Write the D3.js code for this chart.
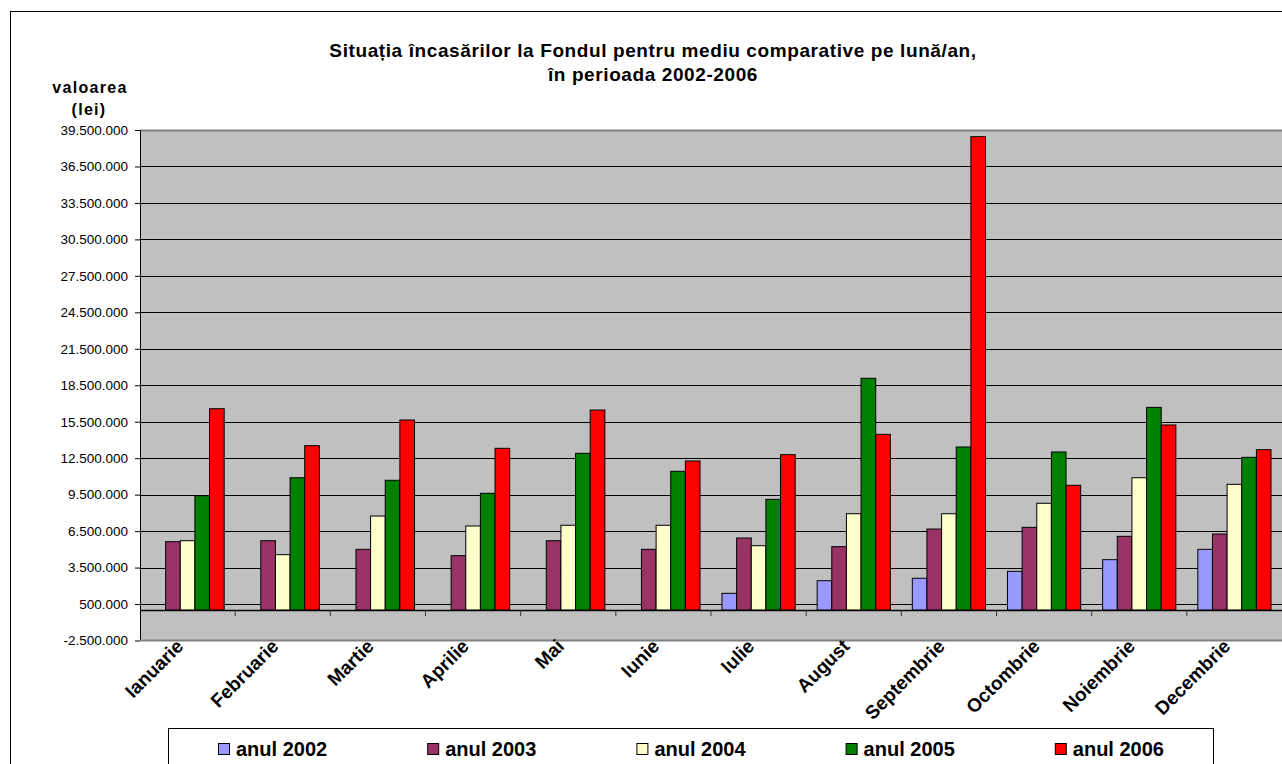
<!DOCTYPE html>
<html>
<head>
<meta charset="utf-8">
<script src="https://cdn.jsdelivr.net/npm/d3@7"></script>
<style>
  body { margin: 0; background: #fff; }
  svg { display: block; font-family: Arial, "Liberation Sans", sans-serif; }
</style>
</head>
<body>
<div id="chart"></div>
<script>
// Data (lei)
var months = ["Ianuarie", "Februarie", "Martie", "Aprilie", "Mai", "Iunie",
  "Iulie", "August", "Septembrie", "Octombrie", "Noiembrie", "Decembrie"];
var years = ["anul 2002", "anul 2003", "anul 2004", "anul 2005", "anul 2006"];
var colors = ["#9999FF", "#993366", "#FFFFCC", "#008000", "#FF0000"];

var an2002 = [0, 0, 0, 0, 0, 0, 1380000, 2420000, 2620000, 3190000, 4150000, 5000000];
var an2003 = [5630000, 5710000, 5000000, 4480000, 5710000, 5000000, 5930000, 5220000, 6670000, 6810000, 6070000, 6260000];
var an2004 = [5710000, 4560000, 7740000, 6920000, 6980000, 6980000, 5300000, 7930000, 7930000, 8790000, 10890000, 10350000];
var an2005 = [9410000, 10890000, 10680000, 9610000, 12900000, 11420000, 9110000, 19070000, 13420000, 13010000, 16680000, 12570000];
var an2006 = [16570000, 13530000, 15640000, 13310000, 16460000, 12270000, 12790000, 14460000, 38950000, 10270000, 15230000, 13200000];

var yTicks = d3.range(-2500000, 39500001, 3000000);

var series = [an2002, an2003, an2004, an2005, an2006];

var width = 1282, height = 764;
var plot = {left: 140, top: 130, right: 1282, bottom: 640.5};

var svg = d3.select("#chart")
  .append("svg")
  .attr("width", width)
  .attr("height", height);

// outer chart border
svg.append("rect")
  .attr("x", 10.5).attr("y", 11.5)
  .attr("width", 1300).attr("height", 800)
  .attr("fill", "#fff").attr("stroke", "#000").attr("stroke-width", 1);

var roFormat = d3.formatLocale({decimal: ",", thousands: ".", grouping: [3], currency: ["", ""], minus: "-"}).format(",");

var y = d3.scaleLinear()
  .domain([-2500000, 39500000])
  .range([plot.bottom, plot.top]);

var x = d3.scaleBand()
  .domain(months)
  .range([plot.left, plot.right])
  .paddingInner(0).paddingOuter(0);

var xInner = d3.scaleBand()
  .domain(d3.range(years.length))
  .range([0, x.bandwidth()])
  .paddingInner(0).paddingOuter(0.75);

// plot area
svg.append("rect")
  .attr("x", plot.left).attr("y", plot.top)
  .attr("width", plot.right - plot.left).attr("height", plot.bottom - plot.top)
  .attr("fill", "#C0C0C0");

svg.append("line")
  .attr("x1", plot.left).attr("x2", plot.right)
  .attr("y1", plot.top + 0.5).attr("y2", plot.top + 0.5)
  .attr("stroke", "#808080").attr("stroke-width", 2);

// gridlines
svg.append("g")
  .selectAll("line")
  .data(yTicks.filter(function(d) { return d > -2500000 && d < 39500000; }))
  .enter()
  .append("line")
  .attr("x1", plot.left).attr("x2", plot.right)
  .attr("y1", function(d) { return Math.round(y(d)) + 0.5; })
  .attr("y2", function(d) { return Math.round(y(d)) + 0.5; })
  .attr("stroke", "#000").attr("stroke-width", 1);

// bars
var groups = svg.append("g")
  .selectAll("g")
  .data(months)
  .enter()
  .append("g")
  .attr("transform", function(d) { return "translate(" + x(d) + ",0)"; });

groups.selectAll("rect")
  .data(function(m, i) { return series.map(function(s, j) { return {j: j, v: s[i]}; }); })
  .enter()
  .filter(function(d) { return d.v > 0; })
  .append("rect")
  .attr("x", function(d) { return xInner(d.j); })
  .attr("y", function(d) { return y(d.v); })
  .attr("width", xInner.bandwidth())
  .attr("height", function(d) { return y(0) - y(d.v); })
  .attr("fill", function(d) { return colors[d.j]; })
  .attr("stroke", "#000").attr("stroke-width", 1);

// y axis
var yAxis = svg.append("g")
  .attr("transform", "translate(" + plot.left + ",0)")
  .call(d3.axisLeft(y).tickValues(yTicks).tickFormat(roFormat).tickSize(5).tickPadding(7).tickSizeOuter(0));
yAxis.select(".domain").attr("stroke", "#000");
yAxis.selectAll("text")
  .attr("font-size", "13.5px")
  .attr("font-family", "Arial, 'Liberation Sans', sans-serif")
  .attr("fill", "#000");

// x axis at zero
var xAxis = svg.append("g")
  .attr("transform", "translate(0," + y(0) + ")")
  .call(d3.axisBottom(x).tickValues(months.slice(1)).tickSize(6).tickSizeOuter(0).tickFormat(""));
xAxis.select(".domain").attr("stroke", "#000").attr("stroke-width", 1.5);
xAxis.selectAll(".tick line")
  .attr("stroke", "#333")
  .attr("transform", "translate(" + (-x.bandwidth() / 2) + ",0)");

// bottom edge of plot area
svg.append("line")
  .attr("x1", plot.left).attr("x2", plot.right)
  .attr("y1", plot.bottom).attr("y2", plot.bottom)
  .attr("stroke", "#808080").attr("stroke-width", 2);

// category labels
svg.append("g")
  .selectAll("text")
  .data(months)
  .enter()
  .append("text")
  .attr("transform", function(d) {
    return "translate(" + (x(d) + x.bandwidth() / 2 - 3) + "," + (plot.bottom + 7) + ") rotate(-45)";
  })
  .attr("text-anchor", "end")
  .attr("font-size", "19px")
  .attr("font-weight", "bold")
  .text(function(d) { return d; });

// title
var title = svg.append("text")
  .attr("text-anchor", "middle")
  .attr("font-size", "19px").attr("font-weight", "bold")
  .attr("letter-spacing", "0.6px");
title.append("tspan").attr("x", 653).attr("y", 57).text("Situația încasărilor la Fondul pentru mediu comparative pe lună/an,");
title.append("tspan").attr("x", 653).attr("y", 81).text("în perioada 2002-2006");

// y axis title
var yTitle = svg.append("text")
  .attr("text-anchor", "middle")
  .attr("font-size", "16px").attr("font-weight", "bold")
  .attr("letter-spacing", "1.3px");
yTitle.append("tspan").attr("x", 90).attr("y", 93).text("valoarea");
yTitle.append("tspan").attr("x", 89).attr("y", 115).text("(lei)");

// legend
svg.append("rect")
  .attr("x", 168.5).attr("y", 728.5)
  .attr("width", 1045).attr("height", 60)
  .attr("fill", "#fff").attr("stroke", "#000").attr("stroke-width", 1);

var legend = svg.append("g")
  .selectAll("g")
  .data(years)
  .enter()
  .append("g")
  .attr("transform", function(d, i) { return "translate(" + (218 + i * 209.2) + ",743)"; });

legend.append("rect")
  .attr("x", 0.5).attr("y", 0.5)
  .attr("width", 11).attr("height", 11)
  .attr("fill", function(d, i) { return colors[i]; })
  .attr("stroke", "#000");

legend.append("text")
  .attr("x", 18).attr("y", 13)
  .attr("font-size", "20px").attr("font-weight", "bold")
  .text(function(d) { return d; });
</script>
</body>
</html>
